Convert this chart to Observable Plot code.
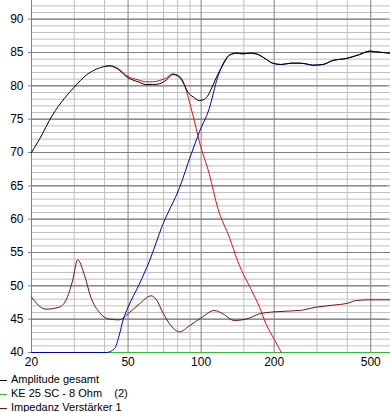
<!DOCTYPE html>
<html>
<head>
<meta charset="utf-8">
<script src="https://cdn.jsdelivr.net/npm/d3@7"></script>
<script src="https://cdn.jsdelivr.net/npm/@observablehq/plot@0.6"></script>
<style>
  html, body { margin: 0; padding: 0; background: #fff; }
  #chart svg { display: block; }
  .legend { font-family: "Liberation Sans", Arial, sans-serif; font-size: 11px; line-height: 14px; color: #000; margin: 0; }
  .legend div { white-space: pre; }
  .legend .dash { display: inline-block; width: 7px; height: 1px; vertical-align: middle; margin-right: 4px; }
</style>
</head>
<body>
<div id="chart"></div>
<div class="legend" id="legend"></div>
<script>
// ---- data ----
const ampFreq = [20,21.5,24.4,27.3,30,33.6,37,40,42,45,50,55,59.3,63,67.3,72,76.4,80,84,88,93,98.4,102,106,110,115,122.8,130.8,140,148,160,174,185,197,214,235,254,270,288,317,349,396,450,494,524,603];
const ampVal  = [70.0,71.9,75.6,78.1,79.8,81.6,82.5,82.9,83.0,82.6,81.2,80.6,80.2,80.2,80.3,80.9,81.7,81.5,80.6,79.1,78.3,77.8,77.9,78.4,79.5,81.1,83.1,84.6,84.9,84.8,84.9,84.6,84.0,83.4,83.2,83.4,83.4,83.3,83.1,83.2,83.8,84.1,84.7,85.2,85.1,84.9];

const wooferFreq = [40,42,45,50,55,59.3,63,67.3,72,76.4,80,84,89.5,95.4,98.4,108.2,117,131,141.5,146,160,174,185,200,214];
const wooferVal  = [82.9,83.0,82.7,81.4,80.9,80.6,80.6,80.8,81.2,81.8,81.6,80.8,77.6,73.6,71.6,66.7,61.7,57.2,53.7,52.5,49.6,46.8,44.3,42.0,40.0];

const tweeterFreq = [20,40.7,44,45.9,47.8,50,55.7,61.2,69.5,81.4,90.9,98.4,108,117,126.8,130.8,140,148,160,174,185,197,214,235,254,270,288,317,349,396,450,494,524,603];
const tweeterVal  = [40,40,40.6,42.5,45.0,46.8,50.3,53.7,59.2,64.7,69.7,73.1,76.6,81.3,84.1,84.6,84.9,84.8,84.9,84.6,84.0,83.4,83.2,83.4,83.4,83.3,83.1,83.2,83.8,84.1,84.7,85.2,85.1,84.9];

const keFreq = [20,603];
const keVal  = [40,40];

const impFreq = [20,22.9,26,27.7,29.5,31,33,35.1,38.1,41.9,45.9,50,55.7,62.2,65.2,69.5,75.2,81.4,89.5,100,113.5,123,137,153,174,200,254,298,350,402,436,494,603];
const impVal  = [48.3,46.5,46.8,47.8,50.7,53.9,51.7,48.3,46.0,45.0,44.9,45.8,47.3,48.5,48.0,46.0,44.0,43.1,44.0,45.2,46.3,45.8,44.8,45.0,45.8,46.1,46.3,46.8,47.1,47.4,47.8,47.9,47.9];

const yTicks = [40,45,50,55,60,65,70,75,80,85,90];
const yMinor = [41,42,43,44,46,47,48,49,51,52,53,54,56,57,58,59,61,62,63,64,66,67,68,69,71,72,73,74,76,77,78,79,81,82,83,84,86,87,88,89,91,92];
const xTicks = [20,50,100,200,500];
const xMinor = [30,40,60,70,80,90,150,300,400];

const seriesNames = ["Amplitude gesamt", "KE 25 SC - 8 Ohm    (2)", "Impedanz Verstärker 1"];
const seriesColors = ["#000000", "#33bb33", "#7a0f0f"];

// ---- build tables ----
const toRows = (f, v) => f.map((x, i) => ({f: x, v: v[i]}));
const amp = toRows(ampFreq, ampVal);
const woofer = toRows(wooferFreq, wooferVal);
const tweeter = toRows(tweeterFreq, tweeterVal);
const ke = toRows(keFreq, keVal);
const imp = toRows(impFreq, impVal);

const chart = Plot.plot({
  width: 390,
  height: 372,
  marginLeft: 31,
  marginRight: 0,
  marginTop: 0,
  marginBottom: 20,
  style: {fontFamily: "Liberation Sans, Arial, sans-serif", fontSize: "12px", background: "#fff", color: "#000"},
  x: {type: "log", domain: [20, 603], axis: null},
  y: {domain: [40, 92.8], axis: null},
  marks: [
    Plot.ruleY(yMinor, {stroke: "#c0c0c0", strokeWidth: 1}),
    Plot.ruleX(xMinor, {stroke: "#c0c0c0", strokeWidth: 1}),
    Plot.ruleY(yTicks, {stroke: "#808080", strokeWidth: 1}),
    Plot.ruleX(xTicks, {stroke: "#808080", strokeWidth: 1}),
    Plot.tickY(yTicks, {y: d => d, frameAnchor: "left", dx: -3, stroke: "#808080", inset: 0}),
    Plot.text(yTicks, {y: d => d, frameAnchor: "left", dx: -8, textAnchor: "end", text: d => String(d), fontSize: 12, fill: "#000"}),
    Plot.text(xTicks, {x: d => d, frameAnchor: "bottom", dy: 13, text: d => String(d), fontSize: 12, fill: "#000"}),
    Plot.line(ke, {x: "f", y: "v", stroke: seriesColors[1], strokeWidth: 1}),
    Plot.line(imp, {x: "f", y: "v", stroke: seriesColors[2], strokeWidth: 1, curve: "monotone-x"}),
    Plot.line(tweeter, {x: "f", y: "v", stroke: "#0000b4", strokeWidth: 1, curve: "monotone-x"}),
    Plot.line(woofer, {x: "f", y: "v", stroke: "#dd1111", strokeWidth: 1, curve: "monotone-x"}),
    Plot.line(amp, {x: "f", y: "v", stroke: seriesColors[0], strokeWidth: 1, curve: "monotone-x"})
  ]
});
document.getElementById("chart").appendChild(chart);

const legend = document.getElementById("legend");
seriesNames.forEach((name, i) => {
  const row = document.createElement("div");
  const dash = document.createElement("span");
  dash.className = "dash";
  dash.style.background = seriesColors[i];
  row.appendChild(dash);
  row.appendChild(document.createTextNode(name));
  legend.appendChild(row);
});
</script>
</body>
</html>
